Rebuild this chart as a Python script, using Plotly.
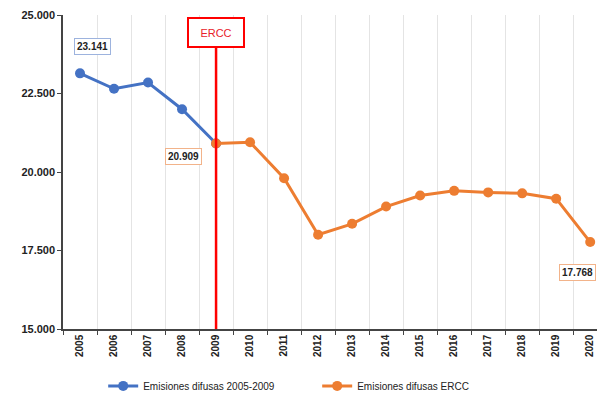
import plotly.graph_objects as go

years = [str(y) for y in range(2005, 2021)]
serie_2005_2009_years = ["2005", "2006", "2007", "2008", "2009"]
serie_2005_2009 = [23141, 22650, 22850, 22000, 20909]
serie_ercc_years = [str(y) for y in range(2009, 2021)]
serie_ercc = [20909, 20950, 19800, 18000, 18350, 18900, 19250, 19400, 19350, 19320, 19150, 17768]
y_ticks = [15000, 17500, 20000, 22500, 25000]
y_ticklabels = ["15.000", "17.500", "20.000", "22.500", "25.000"]

BLUE = "#4472C4"
ORANGE = "#ED7D31"
FONT = "Liberation Sans"

idx = {y: i for i, y in enumerate(years)}

fig = go.Figure()
fig.add_trace(go.Scatter(
    x=serie_2005_2009_years, y=serie_2005_2009, mode="lines+markers",
    name="Emisiones difusas 2005-2009",
    line=dict(color=BLUE, width=3), marker=dict(color=BLUE, size=10),
))
fig.add_trace(go.Scatter(
    x=serie_ercc_years, y=serie_ercc, mode="lines+markers",
    name="Emisiones difusas ERCC",
    line=dict(color=ORANGE, width=3), marker=dict(color=ORANGE, size=10),
))

# ERCC vertical line
fig.add_shape(type="line", xref="x", yref="paper", x0=idx["2009"], x1=idx["2009"],
              y0=0, y1=0.9, line=dict(color="#FF0000", width=2.5))
fig.add_annotation(x=idx["2009"], y=0.995, xref="x", yref="paper", yanchor="top",
                   text="ERCC", showarrow=False,
                   font=dict(family=FONT, size=11, color="#E8212A"),
                   bordercolor="#FF0000", borderwidth=2, bgcolor="white",
                   width=52, height=25)

# value labels
fig.add_annotation(x=idx["2005"], y=serie_2005_2009[0], xref="x", yref="y",
                   text="<b>23.141</b>", showarrow=False,
                   yshift=27, xshift=12, font=dict(family=FONT, size=10, color="#222"),
                   bordercolor="#9DB3DE", borderwidth=1, bgcolor="white", borderpad=2)
fig.add_annotation(x=idx["2009"], y=serie_ercc[0], xref="x", yref="y",
                   text="<b>20.909</b>", showarrow=False,
                   yshift=-13, xshift=-33, font=dict(family=FONT, size=10, color="#222"),
                   bordercolor="#F2B38A", borderwidth=1, bgcolor="white", borderpad=2)
fig.add_annotation(x=idx["2020"], y=serie_ercc[-1], xref="x", yref="y",
                   text="<b>17.768</b>", showarrow=False,
                   yshift=-30, xshift=-13, font=dict(family=FONT, size=10, color="#222"),
                   bordercolor="#F2B38A", borderwidth=1, bgcolor="white", borderpad=2)

fig.update_layout(
    width=600, height=398,
    margin=dict(l=63, r=3, t=15, b=69, autoexpand=False),
    paper_bgcolor="white", plot_bgcolor="white",
    font=dict(family=FONT, size=10, color="#222"),
    showlegend=True,
    legend=dict(orientation="h", x=0.476, xanchor="center", y=-0.135, yanchor="top",
                font=dict(family=FONT, size=10, color="#222"), entrywidth=169),
    xaxis=dict(type="category", categoryorder="array", categoryarray=years,
               range=[-0.5, 15.2], tickangle=-90, tickson="boundaries",
               ticks="outside", ticklen=4, tickcolor="#444",
               showgrid=True, gridcolor="#E4E4E4", gridwidth=1,
               showline=True, linecolor="#444", linewidth=1.5,
               tickfont=dict(family=FONT, size=10, color="#222", weight="bold")),
    yaxis=dict(range=[15000, 25000], tickvals=y_ticks, ticktext=y_ticklabels,
               showgrid=False, zeroline=False, showline=True, linecolor="#444",
               linewidth=1.5, ticks="outside", ticklen=4, tickcolor="#444",
               tickfont=dict(family=FONT, size=11, color="#222", weight="bold")),
)

fig.write_html("out.html", config={"displayModeBar": False},
               post_script="document.body.style.margin='0';")
